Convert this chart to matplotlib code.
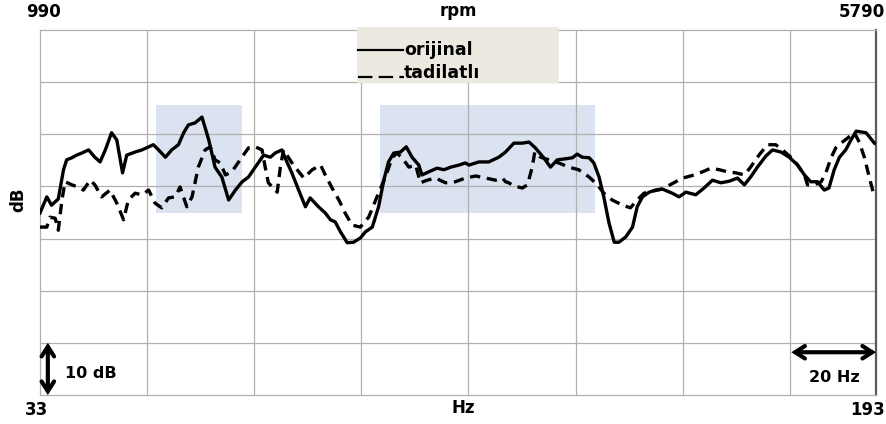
import matplotlib
matplotlib.use("Agg")
import matplotlib.pyplot as plt
from matplotlib.patches import Rectangle
from matplotlib.lines import Line2D

# ---- data (Hz, dB) ----
orijinal_hz = [33.0, 34.3, 35.2, 36.5, 37.5, 38.1, 39.1, 40.0, 41.0, 42.3, 43.5, 44.5, 45.5,
               46.7, 47.7, 48.8, 49.6, 51.2, 52.5, 54.7, 55.7, 57.0, 58.2, 59.5, 60.5, 61.4,
               62.7, 64.0, 65.3, 66.5, 67.8, 69.1, 70.4, 71.7, 72.9, 74.2, 75.8, 77.1, 78.0,
               79.3, 79.9, 81.2, 82.5, 83.8, 84.7, 86.3, 87.6, 88.6, 89.5, 90.5, 91.8, 93.0,
               94.3, 95.3, 96.6, 97.8, 98.8, 99.7, 100.7, 102.0, 103.1, 104.2, 105.5, 106.1,
               107.4, 109.0, 110.3, 111.6, 113.2, 114.4, 115.1, 117.0, 118.9, 120.8, 122.1,
               123.7, 125.3, 126.6, 127.8, 129.4, 130.7, 132.0, 133.6, 134.9, 135.8, 136.8,
               138.1, 139.0, 140.0, 140.9, 141.9, 142.9, 143.8, 145.1, 146.4, 147.3, 148.3,
               149.6, 150.8, 152.1, 154.0, 155.3, 156.6, 158.5, 160.1, 161.7, 163.3, 164.9,
               166.5, 167.8, 169.0, 170.3, 171.9, 173.2, 174.8, 176.4, 178.0, 179.3, 180.5,
               181.8, 183.1, 184.0, 185.0, 186.0, 187.2, 188.2, 189.2, 191.1, 192.7]
orijinal_db = [34.9, 38.0, 36.4, 37.6, 43.2, 45.1, 45.5, 46.0, 46.4, 47.0, 45.6, 44.7, 47.0,
               50.3, 48.9, 42.6, 46.0, 46.6, 47.0, 48.0, 47.0, 45.6, 47.0, 48.0, 50.3, 51.8,
               52.2, 53.3, 48.9, 43.7, 41.8, 37.4, 39.3, 40.9, 41.8, 43.7, 46.0, 45.6, 46.4,
               47.0, 45.5, 42.6, 39.3, 36.1, 37.8, 36.1, 34.9, 33.6, 33.2, 31.3, 29.2, 29.3,
               30.1, 31.3, 32.2, 36.1, 41.2, 44.7, 46.4, 46.6, 47.6, 45.6, 44.1, 42.2,
               42.8, 43.5, 43.2, 43.7, 44.1, 44.5, 44.1, 44.7, 44.7, 45.6, 46.6,
               48.3, 48.3, 48.5, 47.4, 45.5, 43.7, 45.1, 45.3, 45.5, 46.2, 45.6,
               45.5, 44.5, 41.8, 38.0, 33.0, 29.3, 29.3, 30.3, 32.2, 36.1, 38.0,
               38.9, 39.3, 39.5, 38.7, 38.0, 38.9, 38.4, 39.7, 41.2, 40.7, 41.0,
               41.6, 40.3, 41.8, 43.7, 45.8, 47.0, 46.6, 45.6, 44.1, 42.2, 40.9,
               40.9, 39.3, 39.7, 43.2, 45.6, 47.0, 48.9, 50.6, 50.3, 48.3]

tadilatli_hz = [33.0, 34.3, 34.9, 35.9, 36.5, 37.2, 37.8, 39.1, 40.3, 41.3, 42.6, 43.5, 44.8,
                46.4, 47.7, 49.0, 49.9, 51.2, 52.5, 53.8, 55.0, 56.3, 57.6, 58.9, 59.8, 61.1,
                62.1, 63.3, 64.6, 65.6, 66.5, 67.5, 68.5, 69.7, 71.3, 72.9, 74.2, 75.5, 76.1,
                76.7, 78.4, 79.0, 79.6, 81.5, 83.5, 85.1, 86.7, 87.6, 88.9, 90.2, 91.4, 92.7,
                94.3, 95.9, 97.5, 99.1, 100.4, 101.3, 102.3, 103.6, 104.9, 105.8, 107.1, 108.7,
                110.6, 112.5, 114.4, 116.4, 118.3, 120.2, 121.5, 122.1, 122.7, 123.7, 125.3,
                126.3, 127.2, 127.7, 128.8, 130.4, 132.3, 134.2, 136.1, 138.1, 139.7, 140.9,
                142.5, 144.5, 146.0, 147.3, 148.6, 150.2, 152.1, 154.3, 156.0, 158.2, 159.8,
                161.4, 163.0, 164.6, 166.2, 167.8, 169.0, 170.6, 172.2, 173.8, 175.1, 176.7,
                178.0, 179.3, 179.9, 181.2, 182.5, 183.4, 184.4, 185.3, 186.3, 187.6, 188.8,
                189.8, 190.8, 191.7, 192.7]
tadilatli_db = [32.2, 32.2, 34.1, 33.9, 31.6, 37.4, 40.9, 40.3, 39.9, 39.3, 41.2, 40.3, 38.0,
                39.3, 36.8, 33.6, 37.4, 38.7, 38.4, 39.3, 36.8, 35.9, 37.8, 38.0, 39.9, 36.1,
                38.0, 43.7, 47.0, 47.6, 45.1, 44.5, 42.2, 42.8, 45.1, 47.4, 47.6, 47.0, 43.7,
                40.7, 38.9, 43.7, 47.0, 44.1, 41.6, 43.2, 44.1, 42.2, 39.7, 37.4, 34.9, 32.6,
                32.2, 34.1, 38.0, 41.8, 45.5, 46.4, 45.5, 43.7, 44.1, 40.7, 41.2, 41.6,
                40.7, 40.9, 41.6, 42.0, 41.6, 41.2, 41.6, 40.9, 40.7, 40.1, 39.7,
                40.3, 43.7, 46.6, 45.6, 45.1, 44.5, 43.7, 43.2, 41.8, 40.3, 38.7,
                37.4, 36.4, 35.9, 37.4, 38.7, 39.1, 39.5, 40.7, 41.6, 42.2, 42.8,
                43.5, 43.2, 42.8, 42.6, 42.2, 43.7, 46.0, 48.0, 48.0, 47.0, 45.6,
                44.1, 42.2, 40.3, 40.3, 40.9, 42.6, 45.5, 47.4, 48.3, 49.3, 50.4,
                48.5, 45.5, 41.8, 38.0]

series_labels = ["orijinal", "tadilatlı"]
highlight_hz = [(55.2, 71.7), (98.0, 139.3)]
highlight_db = (34.9, 55.6)
x_grid = [53.5, 74.0, 94.5, 115.0, 135.5, 156.0, 176.5]
y_grid = [10, 20, 30, 40, 50, 60]

W, H = 887, 424
fig = plt.figure(figsize=(W / 100, H / 100), dpi=100)
fig.patch.set_facecolor("white")


def fx(px):
    return px / W


def fy(py):
    return 1 - py / H


ax = fig.add_axes([fx(40), fy(395), fx(876) - fx(40), fy(30) - fy(395)])
ax.set_xlim(33, 193)
ax.set_ylim(0, 70)

grid_c = "#b0b0b0"
for xv in x_grid:
    ax.axvline(xv, color=grid_c, lw=0.9, zorder=1)
for yv in y_grid:
    ax.axhline(yv, color=grid_c, lw=0.9, zorder=1)

for (x0, x1) in highlight_hz:
    ax.add_patch(Rectangle((x0, highlight_db[0]), x1 - x0, highlight_db[1] - highlight_db[0],
                           facecolor="#dbe3f0", edgecolor="none", zorder=0.5))

ax.plot(orijinal_hz, orijinal_db, color="black", lw=2.4, solid_joinstyle="round", zorder=3)
ax.plot(tadilatli_hz, tadilatli_db, color="black", lw=2.4, linestyle=(0, (3.1, 2.0)),
        dash_capstyle="butt", zorder=3)

ax.set_xticks([])
ax.set_yticks([])
for s in ["top", "bottom", "left"]:
    ax.spines[s].set_color(grid_c)
    ax.spines[s].set_linewidth(0.9)
ax.spines["right"].set_color("#5a5a5a")
ax.spines["right"].set_linewidth(1.6)

# scale arrows
arrow_props = dict(arrowstyle="<->,head_width=0.45,head_length=0.7", color="black",
                   lw=3.0, shrinkA=0, shrinkB=0, capstyle="round", joinstyle="miter")
ax.annotate("", xy=(34.5, 0), xytext=(34.5, 10), arrowprops=arrow_props,
            annotation_clip=False)
ax.annotate("", xy=(176.8, 8.2), xytext=(193, 8.2), arrowprops=arrow_props,
            annotation_clip=False)
fig.text(fx(91), fy(374), "10 dB", fontsize=11.5, fontweight="bold", ha="center", va="center")
fig.text(fx(834), fy(377), "20 Hz", fontsize=11.5, fontweight="bold", ha="center", va="center")

# axis end labels
bold = dict(fontsize=12, fontweight="bold", va="center")
fig.text(fx(44), fy(12), "990", ha="center", **bold)
fig.text(fx(458), fy(11), "rpm", ha="center", **bold)
fig.text(fx(885), fy(12), "5790", ha="right", **bold)
fig.text(fx(37), fy(410), "33", ha="center", **bold)
fig.text(fx(463), fy(408), "Hz", ha="center", **bold)
fig.text(fx(885), fy(410), "193", ha="right", **bold)
fig.text(fx(18), fy(200), "dB", ha="center", rotation=90, **bold)

# legend box
fig.patches.append(Rectangle((fx(357), fy(83)), fx(559) - fx(357), fy(27) - fy(83),
                             transform=fig.transFigure, facecolor="#ece9e0",
                             edgecolor="none", zorder=5))
fig.lines.append(Line2D([fx(358), fx(403)], [fy(50), fy(50)], transform=fig.transFigure,
                        color="black", lw=1.6, zorder=6))
fig.lines.append(Line2D([fx(358), fx(404)], [fy(77), fy(77)], transform=fig.transFigure,
                        color="black", lw=1.6, linestyle=(0, (6.5, 2.8)), zorder=6))
fig.text(fx(404), fy(55), series_labels[0], fontsize=12.5, fontweight="bold",
         va="baseline", ha="left", zorder=7)
fig.text(fx(404), fy(78), series_labels[1], fontsize=12.5, fontweight="bold",
         va="baseline", ha="left", zorder=7)

fig.savefig("out.png", dpi=100, facecolor="white")
